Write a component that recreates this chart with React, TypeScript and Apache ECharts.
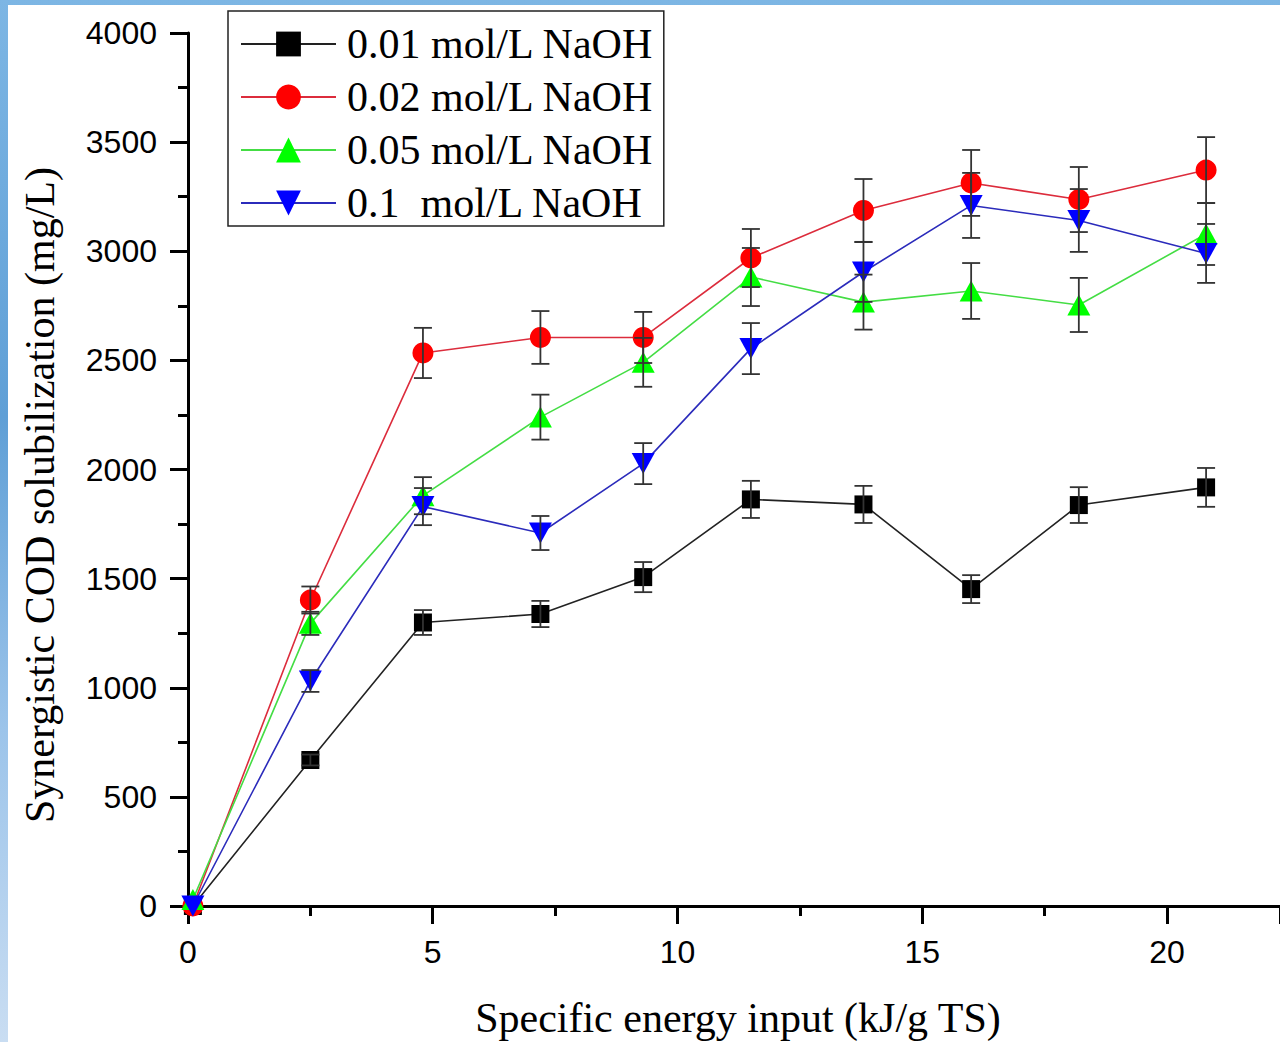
import React, { useEffect, useRef } from "react";
import * as echarts from "echarts";

const xValues = [0.1, 2.5, 4.8, 7.2, 9.3, 11.5, 13.8, 16.0, 18.2, 20.8];
const seriesNames = ["0.01 mol/L NaOH", "0.02 mol/L NaOH", "0.05 mol/L NaOH", "0.1  mol/L NaOH"];
const naoh001 = [0, 669, 1299, 1338, 1507, 1863, 1840, 1452, 1837, 1918];
const naoh001Err = [0, 25, 57, 60, 69, 85, 85, 64, 82, 89];
const naoh002 = [0, 1402, 2534, 2605, 2605, 2969, 3187, 3313, 3237, 3372];
const naoh002Err = [0, 62, 115, 121, 117, 133, 144, 151, 149, 151];
const naoh005 = [30, 1295, 1880, 2240, 2491, 2882, 2767, 2818, 2754, 3079];
const naoh005Err = [0, 53, 85, 103, 112, 133, 126, 128, 124, 142];
const naoh01 = [0, 1031, 1830, 1709, 2027, 2554, 2905, 3210, 3141, 2990];
const naoh01Err = [0, 50, 85, 78, 94, 117, 137, 149, 144, 135];
const yTicks = [0, 500, 1000, 1500, 2000, 2500, 3000, 3500, 4000];
const xTicks = [0, 5, 10, 15, 20];

const SERIF = "'Liberation Serif', 'Times New Roman', serif";
const SANS = "'Liberation Sans', Arial, sans-serif";

export default function App() {
  const ref = useRef<HTMLDivElement>(null);
  useEffect(() => {
    if (!ref.current) return;
    const chart = echarts.init(ref.current, null, { renderer: "svg" });
    const allY = [naoh001, naoh002, naoh005, naoh01];
    const allErr = [naoh001Err, naoh002Err, naoh005Err, naoh01Err];
    const symbols = ["rect", "circle", "triangle", "triangle"];
    const symbolSizes: any[] = [18, 21, [23, 21], [23, 21]];
    const rotates = [0, 0, 0, 180];
    const markerColors = ["#000000", "#ff0000", "#00ff00", "#0000ff"];
    const lineColors = ["#222222", "#dc2c3c", "#44dd44", "#2b2bbb"];

    const lineSeries = allY.map((ys, i) => ({
      name: seriesNames[i],
      type: "line",
      data: xValues.map((x, j) => [x, ys[j]]),
      symbol: symbols[i],
      symbolSize: symbolSizes[i],
      symbolRotate: rotates[i],
      showAllSymbol: true,
      itemStyle: { color: markerColors[i], opacity: 1 },
      lineStyle: { color: lineColors[i], width: 1.6 },
      z: 2,
    }));

    const errData: number[][] = [];
    allY.forEach((ys, i) => {
      ys.forEach((y, j) => {
        const e = allErr[i][j];
        if (e > 0) errData.push([xValues[j], y - e, y + e]);
      });
    });

    const errSeries = {
      name: "errors",
      type: "custom",
      data: errData,
      z: 5,
      silent: true,
      renderItem: (params: any, api: any) => {
        const x = api.value(0);
        const lo = api.coord([x, api.value(1)]);
        const hi = api.coord([x, api.value(2)]);
        const hw = 9;
        const style = { stroke: "#333333", lineWidth: 1.8 };
        return {
          type: "group",
          children: [
            { type: "line", shape: { x1: lo[0], y1: lo[1], x2: hi[0], y2: hi[1] }, style },
            { type: "line", shape: { x1: lo[0] - hw, y1: lo[1], x2: lo[0] + hw, y2: lo[1] }, style },
            { type: "line", shape: { x1: hi[0] - hw, y1: hi[1], x2: hi[0] + hw, y2: hi[1] }, style },
          ],
        };
      },
    };

    chart.setOption({
      animation: false,
      grid: { left: 188, right: 0, top: 33, bottom: 136, containLabel: false },
      legend: {
        data: seriesNames,
        orient: "vertical",
        left: 228,
        top: 11,
        padding: [12, 10, 2, 12],
        itemGap: 11,
        itemWidth: 95,
        itemHeight: 31,
        borderColor: "#222222",
        borderWidth: 1.5,
        backgroundColor: "#ffffff",
        textStyle: { fontFamily: SERIF, fontSize: 42, color: "#000", lineHeight: 42, padding: [0, 0, 0, 6] },
        selectedMode: false,
      },
      xAxis: {
        type: "value",
        min: 0,
        max: 22.31,
        interval: 5,
        axisLine: { show: true, onZero: false, lineStyle: { color: "#000", width: 3 } },
        axisTick: { show: true, inside: false, length: 18, lineStyle: { width: 3, color: "#000" } },
        minorTick: { show: true, splitNumber: 2, length: 10, lineStyle: { width: 3, color: "#000" } },
        splitLine: { show: false },
        axisLabel: {
          fontFamily: SANS,
          fontSize: 32,
          color: "#000",
          margin: 30,
          showMaxLabel: false,
          formatter: (v: number) => (xTicks.includes(v) ? String(v) : ""),
        },
      },
      yAxis: {
        type: "value",
        min: 0,
        max: 4000,
        interval: 500,
        axisLine: { show: true, onZero: false, lineStyle: { color: "#000", width: 3 } },
        axisTick: { show: true, inside: false, length: 18, lineStyle: { width: 3, color: "#000" } },
        minorTick: { show: true, splitNumber: 2, length: 10, lineStyle: { width: 3, color: "#000" } },
        splitLine: { show: false },
        axisLabel: {
          fontFamily: SANS,
          fontSize: 32,
          color: "#000",
          margin: 31,
          formatter: (v: number) => (yTicks.includes(v) ? String(v) : ""),
        },
      },
      graphic: [
        {
          type: "text",
          x: 40,
          y: 495,
          rotation: Math.PI / 2,
          style: {
            text: "Synergistic COD solubilization (mg/L)",
            fontFamily: SERIF,
            fontSize: 42,
            fill: "#000",
            align: "center",
            verticalAlign: "middle",
          },
        },
        {
          type: "text",
          x: 738,
          y: 1018,
          style: {
            text: "Specific energy input (kJ/g TS)",
            fontFamily: SERIF,
            fontSize: 42,
            fill: "#000",
            align: "center",
            verticalAlign: "middle",
          },
        },
      ],
      series: [...lineSeries, errSeries],
    });
    return () => chart.dispose();
  }, []);

  return (
    <div
      style={{
        position: "fixed",
        left: 0,
        top: 0,
        width: 1280,
        height: 1042,
        background: "linear-gradient(180deg, #7db6e4 0%, #5f9fd6 40%, #9cc4ea 70%, #c9ddf2 100%)",
        overflow: "hidden",
      }}
    >
      <div style={{ position: "absolute", left: 8, top: 5, width: 1272, height: 1037, background: "#ffffff" }} />
      <div ref={ref} style={{ position: "absolute", left: 0, top: 0, width: 1280, height: 1042 }} />
    </div>
  );
}
